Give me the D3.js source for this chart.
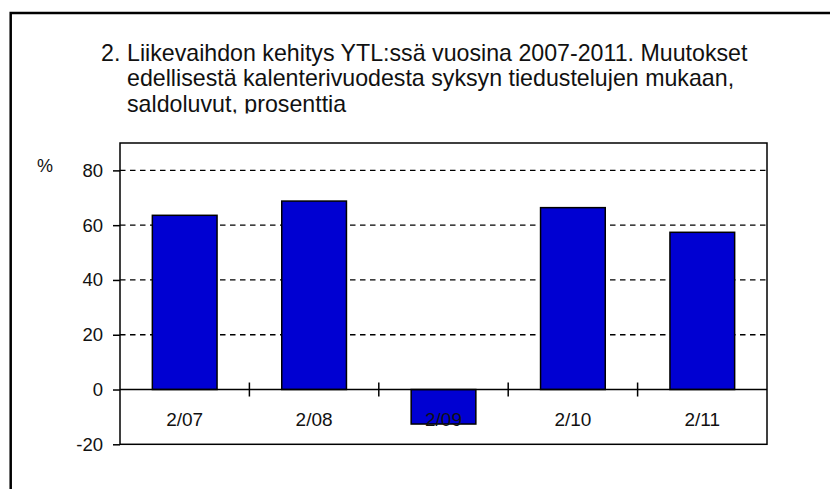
<!DOCTYPE html>
<html>
<head>
<meta charset="utf-8">
<script src="https://cdn.jsdelivr.net/npm/d3@7"></script>
<style>
  html, body { margin: 0; padding: 0; background: #fff; }
  svg { display: block; font-family: "Liberation Sans", Arial, Helvetica, sans-serif; }
</style>
</head>
<body>
<div id="chart"></div>
<script>
(function() {
  // values
  var categories = ["2/07", "2/08", "2/09", "2/10", "2/11"];
  var values = [63.6, 68.8, -12.6, 66.4, 57.4];
  var yTicks = [-20, 0, 20, 40, 60, 80];
  var gridTicks = [20, 40, 60, 80];
  var titleNumber = "2.";
  var titleLines = [
    "Liikevaihdon kehitys YTL:ssä vuosina 2007-2011. Muutokset",
    "edellisestä kalenterivuodesta syksyn tiedustelujen mukaan,",
    "saldoluvut, prosenttia"
  ];
  var unitLabel = "%";

  var W = 830, H = 489;
  var margin = {top: 143, right: 63, bottom: 44.7, left: 120};

  var svg = d3.select("#chart")
    .append("svg")
      .attr("width", W)
      .attr("height", H);

  // outer frame (runs off the right and bottom edge)
  svg.append("rect")
    .attr("x", 10.7).attr("y", 13)
    .attr("width", W + 20).attr("height", H + 20)
    .attr("fill", "none")
    .attr("stroke", "#000")
    .attr("stroke-width", 2.5);

  // title, last line is cut off at the bottom
  svg.append("clipPath").attr("id", "titleclip")
    .append("rect").attr("x", 0).attr("y", 0).attr("width", W).attr("height", 113.6);

  var title = svg.append("g")
    .attr("clip-path", "url(#titleclip)")
    .attr("font-size", 23.2)
    .attr("fill", "#111");

  title.append("text")
    .attr("x", 101).attr("y", 60.5)
    .text(titleNumber);

  title.selectAll("text.line")
    .data(titleLines)
    .join("text")
      .attr("class", "line")
      .attr("x", 127)
      .attr("y", function(d, i) { return 60.5 + i * 25.8; })
      .text(function(d) { return d; });

  var x0 = margin.left, x1 = W - margin.right;
  var y0 = margin.top, y1 = H - margin.bottom;

  var x = d3.scaleBand()
    .domain(categories)
    .range([x0, x1])
    .padding(0);

  var y = d3.scaleLinear()
    .domain([-20, 90])
    .range([y1, y0]);

  var plot = svg.append("g");

  // dashed grid
  plot.selectAll("line.grid")
    .data(gridTicks)
    .join("line")
      .attr("class", "grid")
      .attr("x1", x0).attr("x2", x1)
      .attr("y1", function(d) { return y(d); })
      .attr("y2", function(d) { return y(d); })
      .attr("stroke", "#000")
      .attr("stroke-width", 1.3)
      .attr("stroke-dasharray", "5.5,4.5");

  // bars
  plot.selectAll("rect.bar")
    .data(values)
    .join("rect")
      .attr("class", "bar")
      .attr("x", function(d, i) { return x(categories[i]) + x.bandwidth() / 4; })
      .attr("width", x.bandwidth() / 2)
      .attr("y", function(d) { return y(Math.max(0, d)); })
      .attr("height", function(d) { return Math.abs(y(d) - y(0)); })
      .attr("fill", "#0000d2")
      .attr("stroke", "#000")
      .attr("stroke-width", 1.5);

  // zero line
  plot.append("line")
    .attr("x1", x0).attr("x2", x1)
    .attr("y1", y(0)).attr("y2", y(0))
    .attr("stroke", "#000")
    .attr("stroke-width", 1.5);

  // category boundary ticks crossing the zero line
  plot.selectAll("line.ctick")
    .data(categories.slice(1))
    .join("line")
      .attr("class", "ctick")
      .attr("x1", function(d) { return x(d); })
      .attr("x2", function(d) { return x(d); })
      .attr("y1", y(0) - 7).attr("y2", y(0) + 7)
      .attr("stroke", "#000")
      .attr("stroke-width", 1.5);

  // plot border
  plot.append("rect")
    .attr("x", x0).attr("y", y0)
    .attr("width", x1 - x0).attr("height", y1 - y0)
    .attr("fill", "none")
    .attr("stroke", "#000")
    .attr("stroke-width", 1.5);

  // y axis
  var yAxis = svg.append("g")
    .attr("transform", "translate(" + x0 + ",0)")
    .call(d3.axisLeft(y)
      .tickValues(yTicks)
      .tickFormat(function(d) { return String(d); })
      .tickSize(7)
      .tickPadding(10));
  yAxis.select(".domain").remove();
  yAxis.selectAll(".tick line").attr("stroke", "#000").attr("stroke-width", 1.5);
  yAxis.selectAll(".tick text")
    .attr("font-size", 18.5)
    .attr("font-family", null)
    .attr("fill", "#111");

  // category labels
  svg.selectAll("text.cat")
    .data(categories)
    .join("text")
      .attr("class", "cat")
      .attr("x", function(d) { return x(d) + x.bandwidth() / 2; })
      .attr("y", 426)
      .attr("text-anchor", "middle")
      .attr("font-size", 19)
      .attr("fill", "#111")
      .text(function(d) { return d; });

  svg.append("text")
    .attr("x", 45).attr("y", 172)
    .attr("text-anchor", "middle")
    .attr("font-size", 18)
    .attr("fill", "#111")
    .text(unitLabel);
})();
</script>
</body>
</html>
